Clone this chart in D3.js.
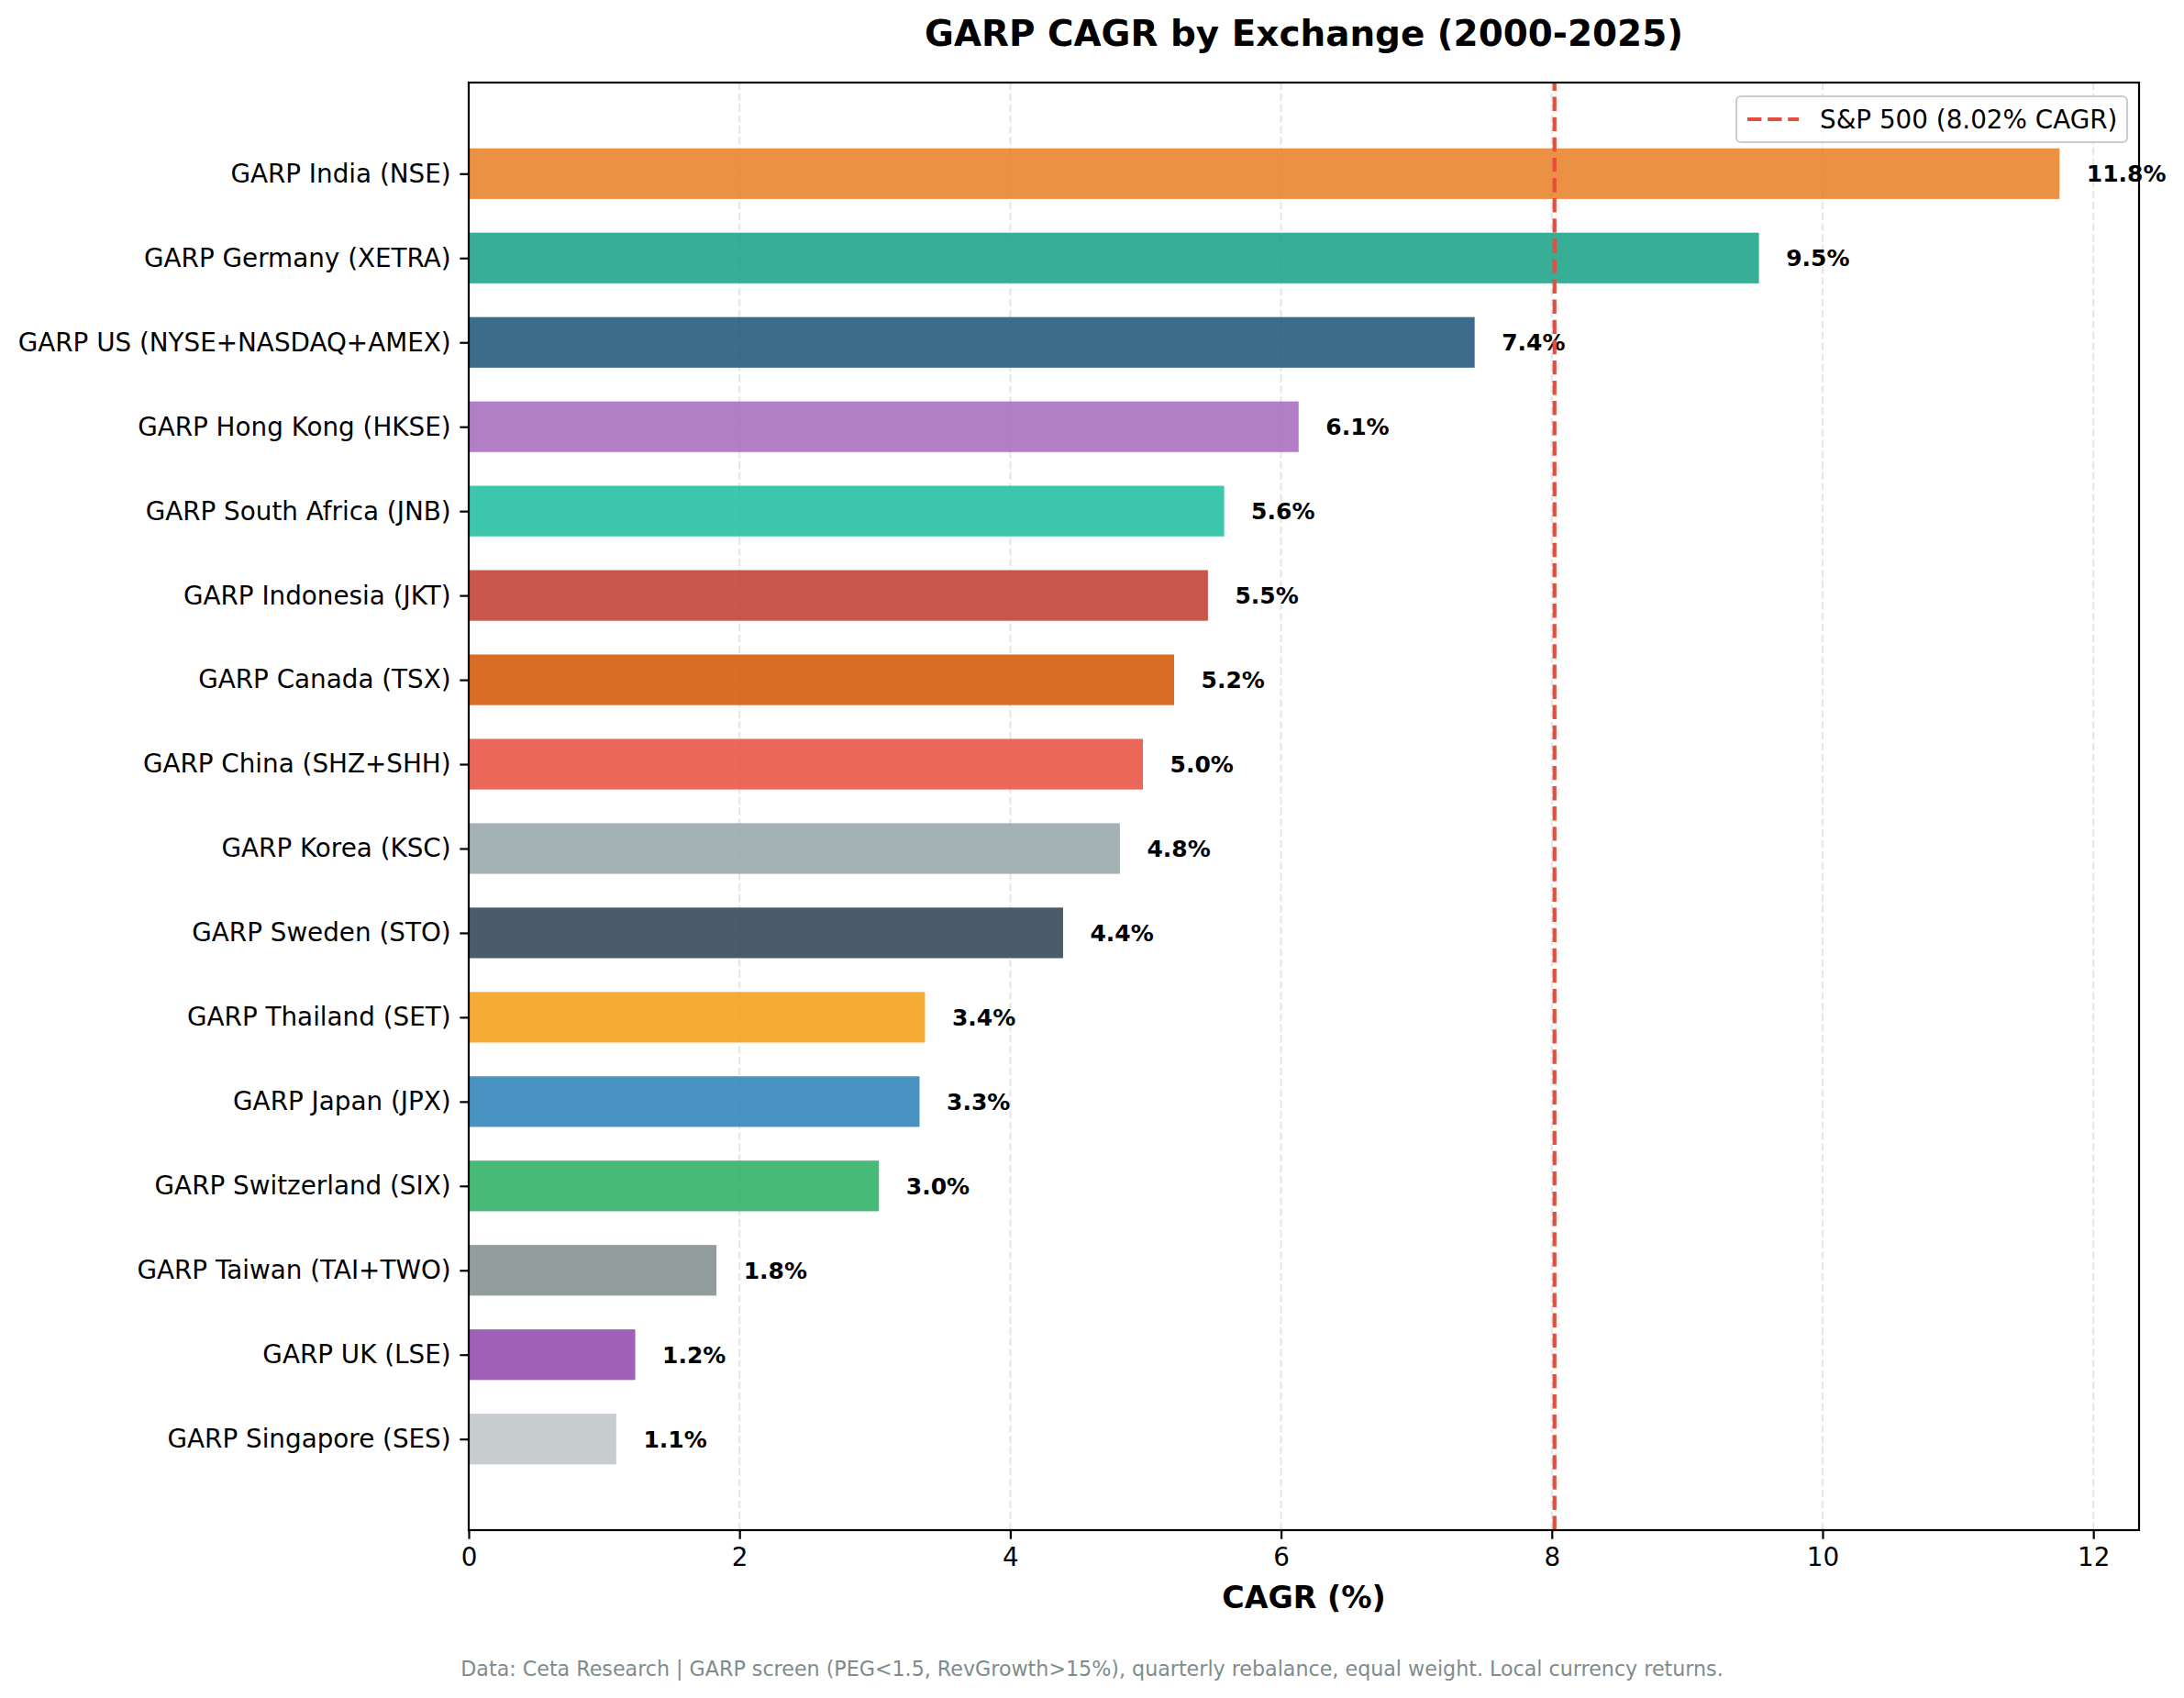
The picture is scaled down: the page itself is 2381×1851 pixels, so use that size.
<!DOCTYPE html>
<html>
<head>
<meta charset="utf-8">
<script src="https://cdn.jsdelivr.net/npm/d3@7"></script>
<style>
  body { margin: 0; background: #fff; }
  text { font-family: "DejaVu Sans", sans-serif; }
</style>
</head>
<body>
<div id="chart"></div>
<script>
// values, top bar first
const exchanges = [
  "GARP India (NSE)", "GARP Germany (XETRA)", "GARP US (NYSE+NASDAQ+AMEX)",
  "GARP Hong Kong (HKSE)", "GARP South Africa (JNB)", "GARP Indonesia (JKT)",
  "GARP Canada (TSX)", "GARP China (SHZ+SHH)", "GARP Korea (KSC)",
  "GARP Sweden (STO)", "GARP Thailand (SET)", "GARP Japan (JPX)",
  "GARP Switzerland (SIX)", "GARP Taiwan (TAI+TWO)", "GARP UK (LSE)",
  "GARP Singapore (SES)"
];
const cagrValues = [11.75, 9.53, 7.43, 6.13, 5.58, 5.46, 5.21, 4.98, 4.81, 4.39, 3.37, 3.33, 3.03, 1.83, 1.23, 1.09];
const barColors = [
  "#e67e22", "#16a085", "#1a5276", "#a569bd", "#1abc9c", "#c0392b",
  "#d35400", "#e74c3c", "#95a5a6", "#2c3e50", "#f39c12", "#2980b9",
  "#27ae60", "#7f8c8d", "#8e44ad", "#bdc3c7"
];
const xTicks = [0, 2, 4, 6, 8, 10, 12];
const benchmark = 8.02;
const benchmarkLabel = "S&P 500 (8.02% CAGR)";

const width = 2381, height = 1851;
const axLeft = 511, axRight = 2332, axTop = 90, axBottom = 1668;

const svg = d3.select("#chart").append("svg")
  .attr("width", width)
  .attr("height", height);

svg.append("rect").attr("width", width).attr("height", height).attr("fill", "#fff");

// x like matplotlib: 0 .. max*1.05
const x = d3.scaleLinear()
  .domain([0, d3.max(cagrValues) * 1.05])
  .range([axLeft, axRight]);

// y: bar index with 0.3 half-height and 5% margins
const n = exchanges.length;
const pad = (n - 1 + 0.6) * 0.05;
const y = d3.scaleLinear()
  .domain([-0.3 - pad, n - 1 + 0.3 + pad])
  .range([axTop, axBottom]);

// grid
svg.append("g").selectAll("line")
  .data(xTicks)
  .join("line")
  .attr("x1", d => x(d)).attr("x2", d => x(d))
  .attr("y1", axTop).attr("y2", axBottom)
  .attr("stroke", "#b0b0b0")
  .attr("stroke-opacity", 0.3)
  .attr("stroke-width", 2.2)
  .attr("stroke-dasharray", "8.2,3.6");

// bars
svg.append("g").selectAll("rect")
  .data(cagrValues)
  .join("rect")
  .attr("x", x(0))
  .attr("y", (d, i) => y(i - 0.3))
  .attr("width", d => x(d) - x(0))
  .attr("height", (d, i) => y(i + 0.3) - y(i - 0.3))
  .attr("fill", (d, i) => barColors[i])
  .attr("fill-opacity", 0.85);

// value labels
svg.append("g").selectAll("text")
  .data(cagrValues)
  .join("text")
  .attr("x", d => x(d + 0.2))
  .attr("y", (d, i) => y(i))
  .attr("dy", "0.36em")
  .attr("font-size", 25)
  .attr("font-weight", "bold")
  .text(d => d.toFixed(1) + "%");

// benchmark line
svg.append("line")
  .attr("x1", x(benchmark)).attr("x2", x(benchmark))
  .attr("y1", axBottom).attr("y2", axTop)
  .attr("stroke", "#e74c3c")
  .attr("stroke-width", 4.2)
  .attr("stroke-dasharray", "15.4,6.7");

// spines
svg.append("rect")
  .attr("x", axLeft).attr("y", axTop)
  .attr("width", axRight - axLeft).attr("height", axBottom - axTop)
  .attr("fill", "none")
  .attr("stroke", "#000")
  .attr("stroke-width", 2.2);

// x axis
const xAxis = svg.append("g")
  .attr("transform", `translate(0,${axBottom})`)
  .call(d3.axisBottom(x).tickValues(xTicks).tickSize(9.7).tickPadding(9.7).tickFormat(d3.format("d")));
xAxis.select(".domain").remove();
xAxis.selectAll("line").attr("stroke-width", 2.2);
xAxis.selectAll("text").attr("font-size", 27.8).attr("font-family", "DejaVu Sans").attr("fill", "#000");

// y axis
const yAxis = svg.append("g")
  .attr("transform", `translate(${axLeft},0)`)
  .call(d3.axisLeft(y).tickValues(d3.range(n)).tickSize(9.7).tickPadding(9.7).tickFormat(i => exchanges[i]));
yAxis.select(".domain").remove();
yAxis.selectAll("line").attr("stroke-width", 2.2);
yAxis.selectAll("text").attr("font-size", 27.8).attr("font-family", "DejaVu Sans").attr("fill", "#000");

// title and labels
svg.append("text")
  .attr("x", (axLeft + axRight) / 2).attr("y", 50)
  .attr("text-anchor", "middle")
  .attr("font-size", 38.9)
  .attr("font-weight", "bold")
  .text("GARP CAGR by Exchange (2000-2025)");

svg.append("text")
  .attr("x", (axLeft + axRight) / 2).attr("y", 1753)
  .attr("text-anchor", "middle")
  .attr("font-size", 33.3)
  .attr("font-weight", "bold")
  .text("CAGR (%)");

svg.append("text")
  .attr("x", width / 2).attr("y", 1827)
  .attr("text-anchor", "middle")
  .attr("font-size", 22.2)
  .attr("fill", "#7f8c8d")
  .text("Data: Ceta Research | GARP screen (PEG<1.5, RevGrowth>15%), quarterly rebalance, equal weight. Local currency returns.");

// legend
const legend = svg.append("g");
legend.append("rect")
  .attr("x", 1893).attr("y", 105)
  .attr("width", 426).attr("height", 50)
  .attr("rx", 5)
  .attr("fill", "#fff").attr("fill-opacity", 0.8)
  .attr("stroke", "#cccccc").attr("stroke-width", 2.2);
legend.append("line")
  .attr("x1", 1905).attr("x2", 1961)
  .attr("y1", 130).attr("y2", 130)
  .attr("stroke", "#e74c3c")
  .attr("stroke-width", 4.2)
  .attr("stroke-dasharray", "15.4,6.7");
legend.append("text")
  .attr("x", 1984).attr("y", 130)
  .attr("dy", "0.36em")
  .attr("font-size", 27.8)
  .text(benchmarkLabel);
</script>
</body>
</html>
